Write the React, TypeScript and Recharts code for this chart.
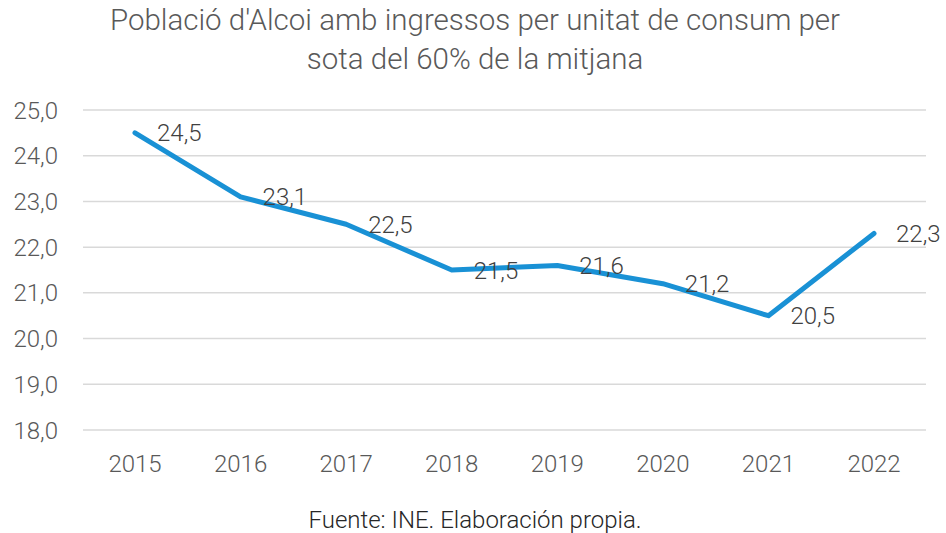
import { LineChart, Line, XAxis, YAxis, CartesianGrid, LabelList } from "recharts";

const years = ["2015", "2016", "2017", "2018", "2019", "2020", "2021", "2022"];
const poverty = [24.5, 23.1, 22.5, 21.5, 21.6, 21.2, 20.5, 22.3];
const yTicks = [18, 19, 20, 21, 22, 23, 24, 25];

const data = years.map((y, i) => ({ year: y, value: poverty[i] }));

const fmt = (v: number) => v.toFixed(1).replace(".", ",");
const font = "Roboto, sans-serif";

export default function App() {
  return (
    <div style={{ position: "absolute", left: 0, top: 0, width: 946, height: 533, background: "#fff", fontFamily: font }}>
      <div
        style={{
          position: "absolute",
          top: 1,
          left: 0,
          width: 950,
          textAlign: "center",
          fontSize: 29.5,
          lineHeight: "39px",
          fontWeight: 300,
          color: "#595959",
        }}
      >
        Població d'Alcoi amb ingressos per unitat de consum per
        <br />
        sota del 60% de la mitjana
      </div>
      <LineChart width={946} height={533} data={data} margin={{ top: 110, right: 20, bottom: 53, left: 0 }}>
        <CartesianGrid vertical={false} stroke="#d9d9d9" strokeWidth={1.5} />
        <XAxis
          dataKey="year"
          axisLine={false}
          tickLine={false}
          tickSize={0}
          tickMargin={25}
          height={50}
          padding={{ left: 52, right: 52 }}
          tick={{ fill: "#595959", fontSize: 24, fontFamily: font, fontWeight: 300 }}
        />
        <YAxis
          domain={[18, 25]}
          ticks={yTicks}
          tickFormatter={fmt}
          axisLine={false}
          tickLine={false}
          tickSize={0}
          tickMargin={25}
          width={83}
          tick={{ fill: "#595959", fontSize: 24, fontFamily: font, fontWeight: 300 }}
        />
        <Line
          type="linear"
          dataKey="value"
          stroke="#1991d5"
          strokeWidth={5}
          strokeLinecap="round"
          strokeLinejoin="round"
          dot={false}
          isAnimationActive={false}
        >
          <LabelList
            dataKey="value"
            position="right"
            offset={22}
            formatter={(v: any) => fmt(Number(v))}
            style={{ fill: "#404040", fontSize: 24, fontFamily: font, fontWeight: 300 }}
          />
        </Line>
      </LineChart>
      <div
        style={{
          position: "absolute",
          top: 506,
          left: 0,
          width: 950,
          textAlign: "center",
          fontSize: 24,
          fontWeight: 300,
          color: "#262626",
        }}
      >
        Fuente: INE. Elaboración propia.
      </div>
    </div>
  );
}
